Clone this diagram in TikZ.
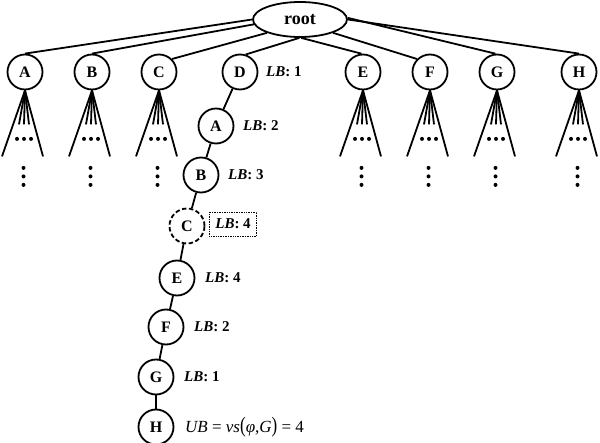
\documentclass[tikz,border=0pt]{standalone}
\usepackage{fontspec}
\setmainfont{Liberation Serif}
\usetikzlibrary{shapes.geometric}
\tikzset{
  edge/.style={line width=1.8pt},
  tnode/.style={circle, draw, line width=1.8pt, minimum size=35pt, inner sep=0pt, font=\bfseries\fontsize{16}{18}\selectfont},
  rootnode/.style={ellipse, draw, line width=1.8pt, minimum width=94pt, minimum height=35pt, inner sep=0pt, font=\bfseries\fontsize{18}{20}\selectfont},
  lbl/.style={anchor=west, inner sep=0pt, font=\bfseries\fontsize{15}{17}\selectfont},
  lbbox/.style={anchor=west, draw, densely dotted, line width=0.7pt, inner xsep=6pt, minimum height=24pt, font=\bfseries\fontsize{15}{17}\selectfont},
  dashnode/.style={tnode, dash pattern=on 4.5pt off 2.5pt},
  dotfill/.style={fill=black}
}
\begin{document}
\begin{tikzpicture}[x=1pt,y=-1pt]
\useasboundingbox (0,0) rectangle (600,443);
% root and first level
\node[rootnode] (root) at (300,19.5) {root};
\node[tnode] (A1) at (25,72) {A};
\node[tnode] (B1) at (92,72) {B};
\node[tnode] (C1) at (159,72) {C};
\node[tnode] (D1) at (240,72) {D};
\node[tnode] (E1) at (363,72) {E};
\node[tnode] (F1) at (430,72) {F};
\node[tnode] (G1) at (497,72) {G};
\node[tnode] (H1) at (579,72) {H};
% chain
\node[tnode] (A2) at (216,126) {A};
\node[tnode] (B2) at (201,175) {B};
\node[dashnode] (C2) at (187,226) {C};
\node[tnode] (E2) at (177,278) {E};
\node[tnode] (F2) at (166,327) {F};
\node[tnode] (G2) at (156,377) {G};
\node[tnode] (H2) at (156,427) {H};
% root edges
\draw[edge] (root.180) -- (A1.90);
\draw[edge] (root.186) -- (B1.90);
\draw[edge] (root.202) -- (C1.45);
\draw[edge] (root.268) -- (D1.72);
\draw[edge] (root.274) -- (E1.95);
\draw[edge] (root.338) -- (F1.135);
\draw[edge] (root.2) -- (G1.95);
\draw[edge] (root.0) -- (H1.90);
% chain edges
\draw[edge] (D1) -- (A2);
\draw[edge] (A2) -- (B2);
\draw[edge] (B2) -- (C2);
\draw[edge] (C2) -- (E2);
\draw[edge] (E2) -- (F2);
\draw[edge] (F2) -- (G2);
\draw[edge] (G2) -- (H2);
% fans
\foreach \n in {A1,B1,C1,E1,F1,G1,H1}{
  \draw[edge] (\n.south) -- ([xshift=-23pt,yshift=-66pt]\n.south);
  \draw[edge] (\n.south) -- ([xshift=18pt,yshift=-66pt]\n.south);
  \draw[edge] (\n.south) -- ([xshift=-6pt,yshift=-34pt]\n.south);
  \draw[edge] (\n.south) -- ([xshift=-1pt,yshift=-34pt]\n.south);
  \draw[edge] (\n.south) -- ([xshift=4pt,yshift=-34pt]\n.south);
  \foreach \dx in {-8,-1,6}{
    \fill[dotfill] ([xshift=\dx pt,yshift=-48.5pt]\n.south) circle (2pt);
  }
  \foreach \dy in {-77.5,-86,-94.5}{
    \fill[dotfill] ([xshift=-1.5pt,yshift=\dy pt]\n.south) circle (2pt);
  }
}
% labels
\node[lbl] (lD) at (266,72) {\itshape LB\upshape: 1};
\node[lbl] (lA) at (243,126) {\itshape LB\upshape: 2};
\node[lbl] (lB) at (228,175) {\itshape LB\upshape: 3};
\node[lbbox] (lC) at (209,224) {\itshape LB\upshape: 4};
\node[lbl] (lE) at (205,278) {\itshape LB\upshape: 4};
\node[lbl] (lF) at (194,327) {\itshape LB\upshape: 2};
\node[lbl] (lG) at (184,377) {\itshape LB\upshape: 1};
\node[anchor=west, inner sep=0pt, font=\fontsize{17}{19}\selectfont] (lH) at (185,427)
  {\itshape UB\/ \upshape= \itshape vs\/\upshape\scalebox{1}[1.3]{(}\itshape φ\upshape,\itshape G\/\upshape\scalebox{1}[1.3]{)} = 4};
\end{tikzpicture}
\end{document}
